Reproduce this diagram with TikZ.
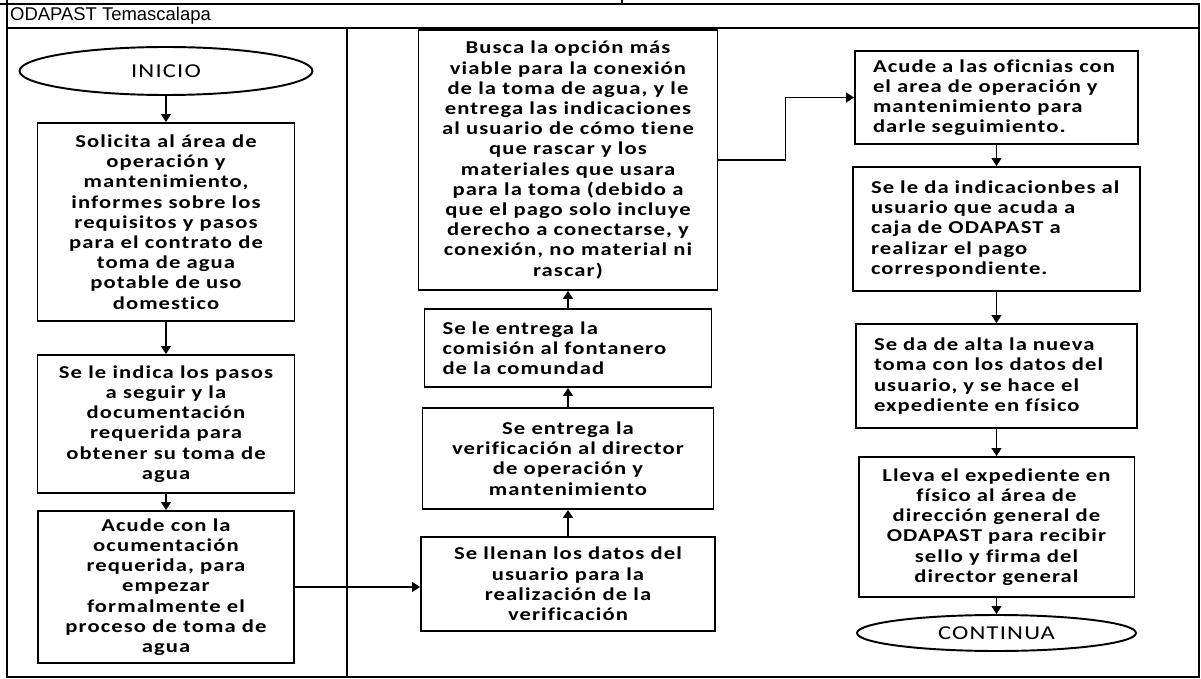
\documentclass[tikz,border=0pt]{standalone}
\usepackage{fontspec}
\setmainfont{Carlito}
\newfontfamily\boxfont[FakeStretch=1.25,LetterSpace=6,Ligatures=NoCommon]{Carlito}
\newfontfamily\headfont{Liberation Sans}
\usetikzlibrary{arrows.meta,shapes.geometric}

\begin{document}
\begin{tikzpicture}[x=0.02cm,y=-0.02cm,
 font=\boxfont\bfseries\fontsize{10.3}{11.5}\selectfont,
 actbox/.style={draw,line width=1.1pt,align=center,inner sep=0pt},
 leftbox/.style={actbox,align=left},
 terminal/.style={draw,line width=1.1pt,ellipse,inner sep=0pt,font=\boxfont\fontsize{11.2}{12}\selectfont},
 arr/.style={-{Triangle[length=1.6mm,width=2mm]},line width=0.7pt},
 lane/.style={line width=1.2pt}]
\useasboundingbox (0,0) rectangle (1201,679);
% lane frame
\draw[lane] (7,0) -- (7,677) -- (1199,677) -- (1199,4) -- (0,4);
\draw[lane] (622,0) -- (622,4);
\draw[lane] (7,28) -- (1199,28);
\draw[lane] (347,28) -- (347,677);
\node[anchor=west,font=\headfont\fontsize{10.5}{12}\selectfont] (lanename) at (4,16) {ODAPAST Temascalapa};
% first column
\node[terminal,minimum width=5.86cm,minimum height=0.96cm] (inicio) at (166,71) {INICIO};
\node[actbox,minimum width=5.14cm,minimum height=3.96cm] (solicita) at (166,222) {Solicita al área de\\operación y\\mantenimiento,\\informes sobre los\\requisitos y pasos\\para el contrato de\\toma de agua\\potable de uso\\domestico};
\node[actbox,minimum width=5.14cm,minimum height=2.76cm] (indica) at (166,424) {Se le indica los pasos\\a seguir y la\\documentación\\requerida para\\obtener su toma de\\agua};
\node[actbox,minimum width=5.12cm,minimum height=3.04cm] (acude) at (166,587) {Acude con la\\ocumentación\\requerida, para\\empezar\\formalmente el\\proceso de toma de\\agua};
% second column (goes upwards)
\node[actbox,minimum width=5.88cm,minimum height=1.88cm] (llenan) at (568,584) {Se llenan los datos del\\usuario para la\\realización de la\\verificación};
\node[actbox,minimum width=5.82cm,minimum height=2.02cm] (verif) at (568,458.5) {Se entrega la\\verificación al director\\de operación y\\mantenimiento};
\node[leftbox,minimum width=5.74cm,minimum height=1.56cm,text width=5.02cm] (comision) at (568,348) {Se le entrega la\\comisión al fontanero\\de la comundad};
\node[actbox,minimum width=5.98cm,minimum height=5.2cm] (busca) at (568,160) {Busca la opción más\\viable para la conexión\\de la toma de agua, y le\\entrega las indicaciones\\al usuario de cómo tiene\\que rascar y los\\materiales que usara\\para la toma (debido a\\que el pago solo incluye\\derecho a conectarse, y\\conexión, no material ni\\rascar)};
% third column
\node[leftbox,minimum width=5.66cm,minimum height=1.86cm,text width=4.94cm] (oficinas) at (996.5,97.5) {Acude a las oficnias con\\el area de operación y\\mantenimiento para\\darle seguimiento.};
\node[leftbox,minimum width=5.74cm,minimum height=2.48cm,text width=5.02cm] (pago) at (996.5,229) {Se le da indicacionbes al\\usuario que acuda a\\caja de ODAPAST a\\realizar el pago\\correspondiente.};
\node[leftbox,minimum width=5.62cm,minimum height=2.08cm,text width=4.9cm] (alta) at (996.5,376) {Se da de alta la nueva\\toma con los datos del\\usuario, y se hace el\\expediente en físico};
\node[actbox,minimum width=5.52cm,minimum height=2.8cm] (lleva) at (996.5,527) {Lleva el expediente en\\físico al área de\\dirección general de\\ODAPAST para recibir\\sello y firma del\\director general};
\node[terminal,minimum width=5.58cm,minimum height=0.72cm] (continua) at (996.5,633) {CONTINUA};
% connectors
\draw[arr] (inicio) -- (solicita);
\draw[arr] (solicita) -- (indica);
\draw[arr] (indica) -- (acude);
\draw[arr] (acude.east) -- (acude.east -| llenan.west);
\draw[arr] (llenan) -- (verif);
\draw[arr] (verif) -- (comision);
\draw[arr] (comision) -- (busca);
\draw[arr] (busca.east) -- ++(67,0) |- (oficinas.west);
\draw[arr] (oficinas) -- (pago);
\draw[arr] (pago) -- (alta);
\draw[arr] (alta) -- (lleva);
\draw[arr] (lleva) -- (continua);
\end{tikzpicture}
\end{document}
